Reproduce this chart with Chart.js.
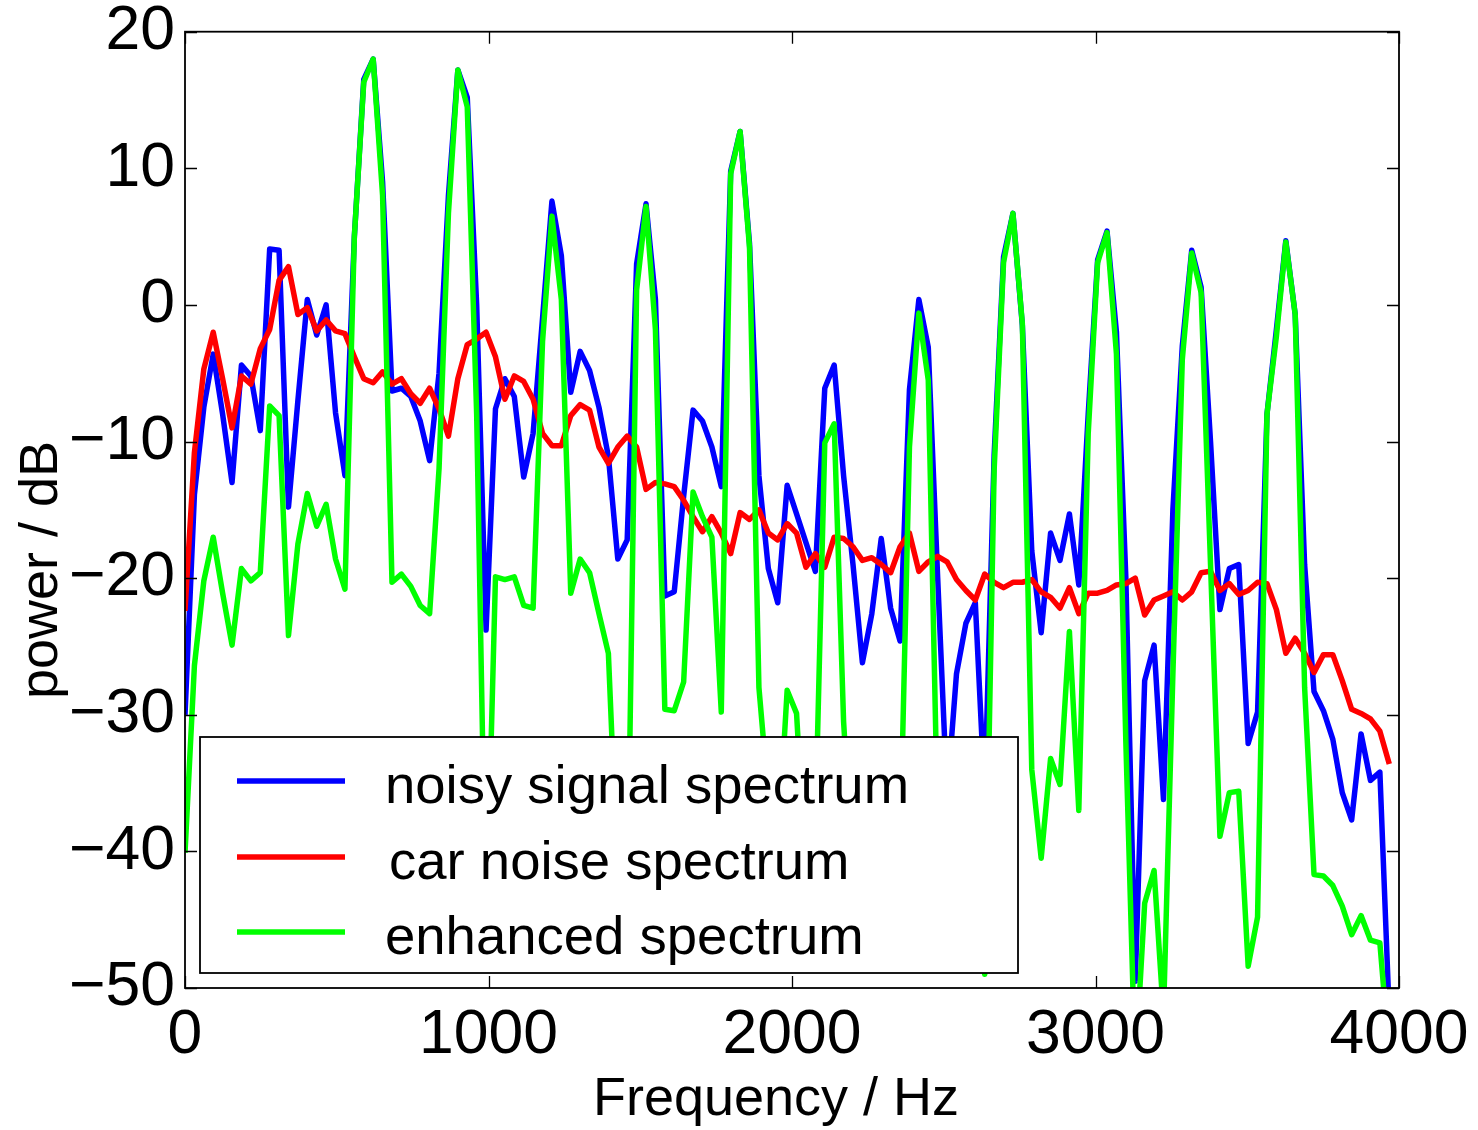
<!DOCTYPE html>
<html>
<head>
<meta charset="utf-8">
<script src="https://cdn.jsdelivr.net/npm/chart.js@4/dist/chart.umd.min.js"></script>
<style>
html,body{margin:0;padding:0;background:#ffffff;}
canvas{display:block;}
</style>
</head>
<body>
<canvas id="c" width="1478" height="1130"></canvas>
<script>
// ---- data ----
const frequencyHz = [0,31,62,93,124,155,186,217,248,279,310,341,372,403,434,465,496,527,558,589,620,651,682,713,744,775,806,837,868,899,930,961,992,1023,1054,1085,1116,1147,1178,1209,1240,1271,1302,1333,1364,1395,1426,1457,1488,1519,1550,1581,1612,1643,1674,1705,1736,1767,1798,1829,1860,1891,1922,1953,1984,2015,2046,2077,2108,2139,2170,2201,2232,2263,2294,2325,2356,2387,2418,2449,2480,2511,2542,2573,2604,2635,2666,2697,2728,2759,2790,2821,2852,2883,2914,2945,2976,3007,3038,3069,3100,3131,3162,3193,3224,3255,3286,3317,3348,3379,3410,3441,3472,3503,3534,3565,3596,3627,3658,3689,3720,3751,3782,3813,3844,3875,3906,3937,3968];

const noisySignalDb = [-30,-13.9,-7.5,-3.6,-8,-13,-4.4,-5.2,-9.2,4.1,
4.0,-14.8,-7,0.4,-2.2,0.0,-7.9,-12.5,5,16.5,
18.0,9,-6.3,-6.1,-6.7,-8.5,-11.4,-5,8,17.2,
15.2,0,-23.8,-7.6,-5.4,-6.7,-12.6,-9.4,-1,7.6,
3.6,-6.4,-3.4,-4.8,-7.5,-11.1,-18.6,-17.2,3.0,7.4,
0.4,-21.3,-21.0,-14,-7.7,-8.5,-10.4,-13.3,9.8,12.7,
4.5,-12.5,-19.3,-21.8,-13.2,-15.3,-17.4,-19.5,-6.1,-4.4,
-12.5,-19,-26.2,-22.6,-17.1,-22.2,-24.6,-6.2,0.4,-3.1,
-20,-36,-27.0,-23.3,-21.8,-36,-11,3.5,6.7,-1.5,
-18,-24.0,-16.7,-18.7,-15.3,-20.5,-8,3.3,5.4,-2,
-20,-49.5,-27.5,-24.9,-36.2,-15,-3,4.0,1.3,-10,
-22.3,-19.3,-19.0,-32.1,-29.8,-8,-1.8,4.7,-0.7,-19,
-28.3,-29.7,-31.8,-35.7,-37.7,-31.4,-34.8,-34.2,-52];

const carNoiseDb = [-22.4,-10.8,-4.7,-2.0,-5.4,-9.0,-5.2,-5.8,-3.2,-1.8,
1.8,2.8,-0.7,-0.2,-1.9,-1.1,-1.9,-2.1,-3.8,-5.4,
-5.7,-4.9,-5.8,-5.4,-6.5,-7.2,-6.1,-7.6,-9.6,-5.4,
-2.9,-2.5,-2.0,-3.8,-6.9,-5.2,-5.6,-6.9,-9.4,-10.3,
-10.3,-8.1,-7.3,-7.7,-10.4,-11.6,-10.4,-9.6,-10.4,-13.5,
-13.0,-13.1,-13.3,-14.3,-15.5,-16.6,-15.5,-16.7,-18.2,-15.2,
-15.7,-15.0,-16.7,-17.2,-16.0,-16.7,-19.2,-18.2,-19.2,-17.0,
-17.1,-17.7,-18.7,-18.5,-19.0,-19.6,-17.7,-16.7,-19.5,-18.8,
-18.4,-18.8,-20.1,-20.9,-21.6,-19.7,-20.3,-20.7,-20.3,-20.3,
-20.1,-21.0,-21.4,-22.2,-20.7,-22.6,-21.1,-21.1,-20.9,-20.5,
-20.4,-20.0,-22.7,-21.6,-21.3,-21.0,-21.6,-21.0,-19.6,-19.5,
-20.9,-20.4,-21.2,-20.9,-20.3,-20.4,-22.3,-25.5,-24.4,-25.5,
-26.9,-25.6,-25.6,-27.5,-29.6,-29.9,-30.3,-31.2,-33.6];

const enhancedDb = [-40.1,-26.4,-20.2,-17.0,-21.1,-24.9,-19.3,-20.2,-19.6,-7.4,
-8.1,-24.2,-17.5,-13.8,-16.2,-14.6,-18.6,-20.8,5,16.3,
18.0,8,-20.3,-19.7,-20.6,-22.0,-22.6,-12,6.7,17.2,
14.5,-8,-46,-19.9,-20.1,-19.9,-22.0,-22.2,-2.7,6.5,
0.4,-21.1,-18.6,-19.6,-22.6,-25.5,-42,-45,1.1,7.2,
-1.8,-29.6,-29.7,-27.6,-13.7,-15.5,-17.0,-29.8,9.6,12.7,
4.2,-28.0,-36,-40,-28.2,-29.9,-42,-38,-10.1,-8.7,
-30.5,-42,-45,-44,-46,-43,-40,-10.4,-0.6,-5.5,
-38,-45,-44,-46,-43,-49,-12.1,3.1,6.7,-1.4,
-34.0,-40.5,-33.2,-35.1,-23.9,-37.0,-9.4,3.1,5.3,-3.6,
-32,-56,-43.8,-41.4,-52,-27,-4,3.8,0.9,-19,
-38.9,-35.7,-35.6,-48.4,-44.8,-8,-2.3,4.6,-0.7,-28,
-41.7,-41.8,-42.5,-44,-46.1,-44.7,-46.5,-46.7,-55];

const xTickValues = [0, 1000, 2000, 3000, 4000];
const yTickValues = [-50, -40, -30, -20, -10, 0, 10, 20];
const seriesLabels = ['noisy signal spectrum', 'car noise spectrum', 'enhanced spectrum'];
const xAxisTitle = 'Frequency / Hz';
const yAxisTitle = 'power / dB';

// ---- styling ----
const FONT = '"Liberation Sans", Arial, Helvetica, sans-serif';
const seriesColors = ['#0000ff', '#ff0000', '#00ff00'];
const LINE_W = 5.5;

function fmt(v) { return String(v).replace('-', '\u2212'); }

const framePlugin = {
  id: 'frameLegendTitles',
  afterDatasetsDraw(chart) {
    const {ctx, chartArea: a, scales: {x, y}} = chart;
    ctx.save();
    // inward ticks on all four sides
    ctx.strokeStyle = '#000';
    ctx.lineWidth = 1.3;
    const tl = 12;
    ctx.beginPath();
    xTickValues.forEach(v => {
      const px = Math.round(x.getPixelForValue(v)) + 0.5;
      ctx.moveTo(px, a.bottom); ctx.lineTo(px, a.bottom - tl);
      ctx.moveTo(px, a.top); ctx.lineTo(px, a.top + tl);
    });
    yTickValues.forEach(v => {
      const py = Math.round(y.getPixelForValue(v)) + 0.5;
      ctx.moveTo(a.left, py); ctx.lineTo(a.left + tl, py);
      ctx.moveTo(a.right, py); ctx.lineTo(a.right - tl, py);
    });
    ctx.stroke();
    // axes box
    ctx.lineWidth = 1.8;
    ctx.strokeRect(a.left, a.top, a.right - a.left, a.bottom - a.top);

    // legend box
    const lx = 200, ly = 737, lw = 818, lh = 236;
    ctx.fillStyle = '#ffffff';
    ctx.fillRect(lx, ly, lw, lh);
    ctx.lineWidth = 1.8;
    ctx.strokeStyle = '#000';
    ctx.strokeRect(lx, ly, lw, lh);
    const rowsY = [781, 857, 932];
    const textX = [385, 389, 385];
    chart.data.datasets.slice().sort((p, q) => p.legendIndex - q.legendIndex).forEach((ds, k) => {
      ctx.strokeStyle = ds.borderColor;
      ctx.lineWidth = LINE_W;
      ctx.beginPath();
      ctx.moveTo(237, rowsY[k]);
      ctx.lineTo(345, rowsY[k]);
      ctx.stroke();
      ctx.fillStyle = '#000';
      ctx.font = '54.5px ' + FONT;
      ctx.textAlign = 'left';
      ctx.textBaseline = 'alphabetic';
      ctx.fillText(ds.label, textX[k], rowsY[k] + 22);
    });
    ctx.restore();
  },
  afterDraw(chart) {
    const {ctx} = chart;
    ctx.save();
    ctx.fillStyle = '#000';
    ctx.font = '54px ' + FONT;
    ctx.textAlign = 'center';
    ctx.textBaseline = 'middle';
    ctx.fillText(xAxisTitle, 776, 1100);
    ctx.translate(42, 570);
    ctx.rotate(-Math.PI / 2);
    ctx.fillText(yAxisTitle, 0, 0);
    ctx.restore();
  }
};

const toPoints = arr => arr.map((v, i) => ({x: frequencyHz[i], y: v}));

new Chart(document.getElementById('c'), {
  type: 'line',
  data: {
    datasets: [
      {label: seriesLabels[0], legendIndex: 0, data: toPoints(noisySignalDb), borderColor: seriesColors[0], order: 3},
      {label: seriesLabels[1], legendIndex: 1, data: toPoints(carNoiseDb), borderColor: seriesColors[1], order: 2},
      {label: seriesLabels[2], legendIndex: 2, data: toPoints(enhancedDb), borderColor: seriesColors[2], order: 1}
    ].map(d => Object.assign(d, {
      borderWidth: LINE_W, pointRadius: 0, tension: 0, fill: false, clip: 0,
      borderJoinStyle: 'round', borderCapStyle: 'butt'
    }))
  },
  options: {
    responsive: false,
    animation: false,
    devicePixelRatio: 1,
    events: [],
    layout: {padding: {left: 0, right: 79, top: 31.7, bottom: 0}},
    plugins: {legend: {display: false}, tooltip: {enabled: false}, title: {display: false}},
    scales: {
      x: {
        type: 'linear', min: 0, max: 4000,
        grid: {display: false, drawTicks: false},
        border: {display: false},
        afterBuildTicks: s => { s.ticks = xTickValues.map(v => ({value: v})); },
        ticks: {
          autoSkip: false, maxRotation: 0, padding: 10, color: '#000',
          font: {family: FONT, size: 62.5},
          callback: v => fmt(v)
        },
        afterFit: s => { s.height = 142; s.paddingLeft = 0; s.paddingRight = 0; }
      },
      y: {
        type: 'linear', min: -50, max: 20,
        grid: {display: false, drawTicks: false},
        border: {display: false},
        afterBuildTicks: s => { s.ticks = yTickValues.map(v => ({value: v})); },
        ticks: {
          autoSkip: false, padding: 10, color: '#000',
          font: {family: FONT, size: 62.5},
          callback: v => fmt(v)
        },
        afterFit: s => { s.width = 185; s.paddingTop = 0; s.paddingBottom = 0; }
      }
    }
  },
  plugins: [framePlugin]
});
</script>
</body>
</html>
